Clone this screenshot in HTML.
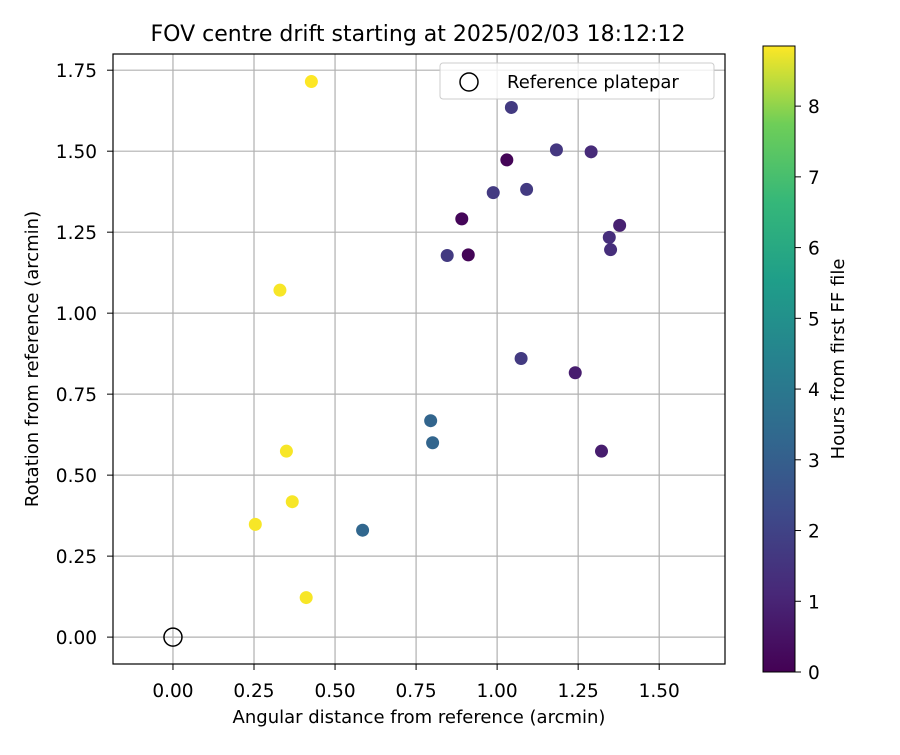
<!DOCTYPE html>
<html><head><meta charset="utf-8"><style>
body{margin:0;background:#fff;}
svg{font-family:"DejaVu Sans","Liberation Sans",sans-serif;}
</style></head><body>
<svg id="chart" width="900" height="750" viewBox="0 0 900 750" xmlns="http://www.w3.org/2000/svg">
<defs>
<linearGradient id="vir" x1="0" y1="1" x2="0" y2="0">
<stop offset="0" stop-color="#440154"/><stop offset="0.125" stop-color="#482878"/><stop offset="0.25" stop-color="#3e4989"/><stop offset="0.375" stop-color="#31688e"/><stop offset="0.5" stop-color="#26828e"/><stop offset="0.625" stop-color="#1f9e89"/><stop offset="0.75" stop-color="#35b779"/><stop offset="0.875" stop-color="#6ece58"/><stop offset="1" stop-color="#fde725"/>
</linearGradient>
</defs>
<text x="418" y="41" font-size="22" text-anchor="middle">FOV centre drift starting at 2025/02/03 18:12:12</text>
<g id="grid"></g>
<g id="points"></g>
<rect x="113" y="54" width="612" height="610" fill="none" stroke="#000" stroke-width="1.2"/>
<g id="axes"></g>
<text x="419" y="723" font-size="18" text-anchor="middle">Angular distance from reference (arcmin)</text>
<text transform="translate(38,359) rotate(-90)" font-size="18" text-anchor="middle">Rotation from reference (arcmin)</text>
<g>
<rect x="440" y="63" width="274" height="36" rx="3" fill="#fff" fill-opacity="0.8" stroke="#ccc"/>
<circle cx="469" cy="82" r="9" fill="none" stroke="#000" stroke-width="1.5"/>
<text x="507" y="88" font-size="18">Reference platepar</text>
</g>
<rect x="763" y="46" width="32" height="626" fill="url(#vir)" stroke="#000" stroke-width="1"/>
<g id="cbar"></g>
<text transform="translate(844,359) rotate(-90)" font-size="18" text-anchor="middle">Hours from first FF file</text>
</svg>
<script>
const xValues=[0.427,0.330,0.350,0.368,0.254,0.411,0.795,0.801,0.585,1.044,1.183,1.290,1.030,0.988,1.091,0.891,0.846,0.911,1.378,1.346,1.350,1.074,1.241,1.322];
const yValues=[1.715,1.071,0.574,0.418,0.348,0.122,0.668,0.600,0.330,1.635,1.504,1.498,1.473,1.372,1.382,1.291,1.178,1.180,1.271,1.234,1.196,0.860,0.816,0.574];
const hours=[8.85,8.8,8.8,8.8,8.8,8.8,3.2,3.2,3.3,1.7,1.6,1.2,0.1,1.7,1.7,0.15,1.7,0.1,0.9,1.3,1.3,1.7,0.8,0.8];
const xTicks=[0,0.25,0.5,0.75,1.0,1.25,1.5];
const yTicks=[0,0.25,0.5,0.75,1.0,1.25,1.5,1.75];
const cTicks=[0,1,2,3,4,5,6,7,8];
const X0=113,X1=725,Y0=664,Y1=54,xmin=-0.185,xmax=1.703,ymin=-0.083,ymax=1.800,cmax=8.85;
const sx=v=>X0+(v-xmin)/(xmax-xmin)*(X1-X0);
const sy=v=>Y0-(v-ymin)/(ymax-ymin)*(Y0-Y1);
const sc=v=>672-v/cmax*626;
const NS="http://www.w3.org/2000/svg";
const vir=["#440154","#482878","#3e4989","#31688e","#26828e","#1f9e89","#35b779","#6ece58","#fde725"];
function hx(c){return [1,3,5].map(i=>parseInt(c.substr(i,2),16));}
function col(v){let t=Math.max(0,Math.min(1,v/cmax))*8;let i=Math.min(7,Math.floor(t));let f=t-i;let a=hx(vir[i]),b=hx(vir[i+1]);return "rgb("+a.map((q,k)=>Math.round(q+(b[k]-q)*f)).join(",")+")";}
function mk(tag,attrs,parent){const e=document.createElementNS(NS,tag);for(const k in attrs)e.setAttribute(k,attrs[k]);parent.appendChild(e);return e;}
const grid=document.getElementById('grid'),axes=document.getElementById('axes'),pts=document.getElementById('points'),cb=document.getElementById('cbar');
xTicks.forEach(t=>{
const l=mk('line',{x1:sx(t),x2:sx(t),y1:Y1,y2:Y0,stroke:'#b0b0b0','stroke-width':1.2},grid);


mk('line',{x1:sx(t),x2:sx(t),y1:Y0,y2:Y0+6,stroke:'#000'},axes);
const tx=mk('text',{x:sx(t),y:697,'font-size':18.5,'text-anchor':'middle'},axes);tx.textContent=t.toFixed(2);


});
yTicks.forEach(t=>{
const l=mk('line',{x1:X0,x2:X1,y1:sy(t),y2:sy(t),stroke:'#b0b0b0','stroke-width':1.2},grid);


mk('line',{x1:X0-6,x2:X0,y1:sy(t),y2:sy(t),stroke:'#000'},axes);
const tx=mk('text',{x:97,y:sy(t)+7,'font-size':18.5,'text-anchor':'end'},axes);tx.textContent=t.toFixed(2);


});
xValues.forEach((v,i)=>{
const c=mk('circle',{cx:sx(v),cy:sy(yValues[i]),r:6.5,fill:col(hours[i])},pts);


});
const ref=mk('circle',{cx:sx(0),cy:sy(0),r:9,fill:'none',stroke:'#000','stroke-width':1.5},pts);


cTicks.forEach(t=>{
mk('line',{x1:795,x2:801,y1:sc(t),y2:sc(t),stroke:'#000'},cb);
const tx=mk('text',{x:808,y:sc(t)+7,'font-size':18.5},cb);tx.textContent=t;


});
</script>
</body></html>
